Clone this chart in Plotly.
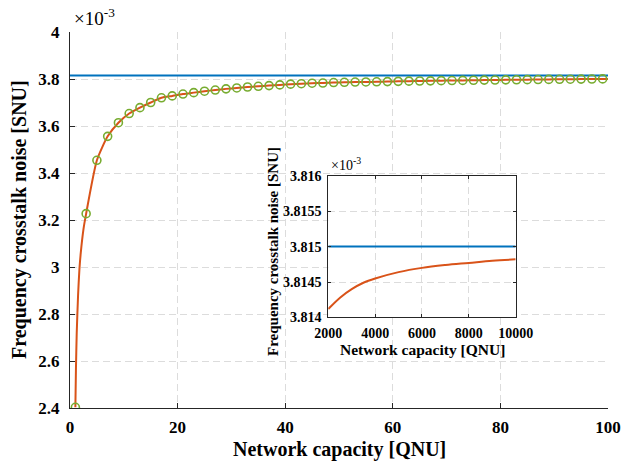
import plotly.graph_objects as go

# ---- data (noise values in units of 1e-3 SNU) ----
# simulated points, odd network capacities 1..99
sim_capacity = list(range(1, 100, 2))
sim_noise = [
    2.403, 3.227, 3.454, 3.556, 3.614, 3.653, 3.678, 3.700, 3.720, 3.728,
    3.736, 3.742, 3.748, 3.753, 3.758, 3.762, 3.766, 3.769, 3.772, 3.775,
    3.778, 3.780, 3.782, 3.783, 3.785, 3.786, 3.787, 3.7875, 3.788, 3.789,
    3.790, 3.7908, 3.7915, 3.7922, 3.7929, 3.7935, 3.7941, 3.7947, 3.7953, 3.7958,
    3.7963, 3.7968, 3.7973, 3.7978, 3.7983, 3.7987, 3.7992, 3.7996, 3.8000, 3.8004,
]

# analytic curve: steep start plus the simulated range, ending at 100
curve_head_capacity = [1.0, 1.1, 1.25, 1.5, 1.75, 2.0, 2.5]
curve_head_noise = [2.403, 2.56, 2.72, 2.88, 2.99, 3.06, 3.16]
curve_tail_capacity = [100]
curve_tail_noise = [3.8005]

# asymptotic limit
limit_noise = 3.815
main_capacity_range = [0, 100]

# large-capacity zoom (inset)
inset_capacity = [2000, 2500, 3000, 3500, 4000, 5000, 6000, 7000, 8000, 9000, 10000]
inset_noise = [3.81412, 3.81428, 3.81440, 3.81449, 3.81455, 3.81464, 3.81470,
               3.81474, 3.81477, 3.81480, 3.81482]
inset_capacity_range = [2000, 10000]

# tick labels
main_xticks = [0, 20, 40, 60, 80, 100]
main_xtext = ["0", "20", "40", "60", "80", "100"]
main_yticks = [2.4, 2.6, 2.8, 3.0, 3.2, 3.4, 3.6, 3.8, 4.0]
main_ytext = ["2.4", "2.6", "2.8", "3", "3.2", "3.4", "3.6", "3.8", "4"]
inset_xticks = [2000, 4000, 6000, 8000, 10000]
inset_xtext = ["2000", "4000", "6000", "8000", "10000"]
inset_yticks = [3.814, 3.8145, 3.815, 3.8155, 3.816]
inset_ytext = ["3.814", "3.8145", "3.815", "3.8155", "3.816"]

BLUE = "#0072BD"
RED = "#D95319"
GREEN = "#77AC30"
AXIS = "#262626"
GRID = "#dcdcdc"
SERIF = "Liberation Serif"


curve_capacity = curve_head_capacity + sim_capacity[1:] + curve_tail_capacity
curve_noise = curve_head_noise + sim_noise[1:] + curve_tail_noise

fig = go.Figure()

# main axes
fig.add_trace(go.Scatter(
    x=main_capacity_range, y=[limit_noise] * len(main_capacity_range),
    mode="lines", line=dict(color=BLUE, width=2), showlegend=False,
    xaxis="x", yaxis="y"))
fig.add_trace(go.Scatter(
    x=curve_capacity, y=curve_noise, mode="lines",
    line=dict(color=RED, width=2, shape="spline", smoothing=0.6),
    showlegend=False, xaxis="x", yaxis="y"))
fig.add_trace(go.Scatter(
    x=sim_capacity, y=sim_noise, mode="markers",
    marker=dict(symbol="circle-open", size=8, color=GREEN,
                line=dict(color=GREEN, width=1.6)),
    showlegend=False, xaxis="x", yaxis="y"))

# inset axes
fig.add_trace(go.Scatter(
    x=inset_capacity_range, y=[limit_noise] * len(inset_capacity_range),
    mode="lines", line=dict(color=BLUE, width=2), showlegend=False,
    xaxis="x2", yaxis="y2"))
fig.add_trace(go.Scatter(
    x=inset_capacity, y=inset_noise, mode="lines",
    line=dict(color=RED, width=2, shape="spline", smoothing=1.0),
    showlegend=False, xaxis="x2", yaxis="y2"))

common_axis = dict(
    showline=True, linecolor=AXIS, linewidth=1,
    ticks="inside", tickcolor=AXIS, tickwidth=1,
    showgrid=True, gridcolor=GRID, gridwidth=1, griddash="7px,4px",
    zeroline=False, automargin=False,
)

INSET_X = [0.4801, 0.8284]
INSET_Y = [0.2407, 0.6178]

main_tickfont = dict(family=SERIF, size=17, color="black", weight="bold")
inset_tickfont = dict(family=SERIF, size=14, color="black", weight="bold")

fig.update_layout(
    width=622, height=464,
    margin=dict(l=70, r=14, t=32, b=56),
    paper_bgcolor="white", plot_bgcolor="white",
    xaxis=dict(
        **common_axis, domain=[0, 1], anchor="y", range=main_capacity_range,
        tickvals=main_xticks, ticktext=main_xtext, ticklen=5, mirror=False,
        ticklabelstandoff=4, tickfont=main_tickfont,
    ),
    yaxis=dict(
        **common_axis, domain=[0, 1], anchor="x", range=[2.4, 4.0],
        tickvals=main_yticks, ticktext=main_ytext, ticklen=5, mirror=False,
        ticklabelstandoff=6, tickfont=main_tickfont,
    ),
    xaxis2=dict(
        **common_axis, domain=INSET_X, anchor="y2", range=inset_capacity_range,
        tickvals=inset_xticks, ticktext=inset_xtext, ticklen=3, mirror="ticks",
        ticklabelstandoff=3, tickfont=inset_tickfont,
    ),
    yaxis2=dict(
        **common_axis, domain=INSET_Y, anchor="x2", range=[3.814, 3.816],
        tickvals=inset_yticks, ticktext=inset_ytext, ticklen=3, mirror="ticks",
        ticklabelstandoff=3, tickfont=inset_tickfont,
    ),
    showlegend=False,
)


def px_x(px):
    return (px - 70) / 538.0


def px_y(py):
    return (408 - py) / 376.0


title_font = dict(family=SERIF, size=20, color="black", weight="bold")
inset_title_font = dict(family=SERIF, size=15.5, color="black", weight="bold")

annotations = [
    # main axis titles
    dict(text="Network capacity [QNU]", x=0.5, y=px_y(449.5),
         xanchor="center", yanchor="middle", font=title_font),
    dict(text="Frequency crosstalk noise [SNU]", x=px_x(19), y=0.5,
         xanchor="center", yanchor="middle", textangle=-90, font=title_font),
    # main exponent
    dict(text="×10<sup>-3</sup>", x=px_x(72), y=px_y(31),
         xanchor="left", yanchor="bottom",
         font=dict(family=SERIF, size=19, color="black")),
    # inset axis titles
    dict(text="Network capacity [QNU]", x=px_x(422), y=px_y(349),
         xanchor="center", yanchor="middle", font=inset_title_font),
    dict(text="Frequency crosstalk noise [SNU]", x=px_x(273), y=px_y(252),
         xanchor="center", yanchor="middle", textangle=-90,
         font=dict(family=SERIF, size=15, color="black", weight="bold")),
    # inset exponent
    dict(text="×10<sup>-3</sup>", x=px_x(329), y=px_y(175),
         xanchor="left", yanchor="bottom",
         font=dict(family=SERIF, size=14, color="black")),
]
for a in annotations:
    a.update(xref="paper", yref="paper", showarrow=False)
fig.update_layout(annotations=annotations)

fig.write_html("out.html")
